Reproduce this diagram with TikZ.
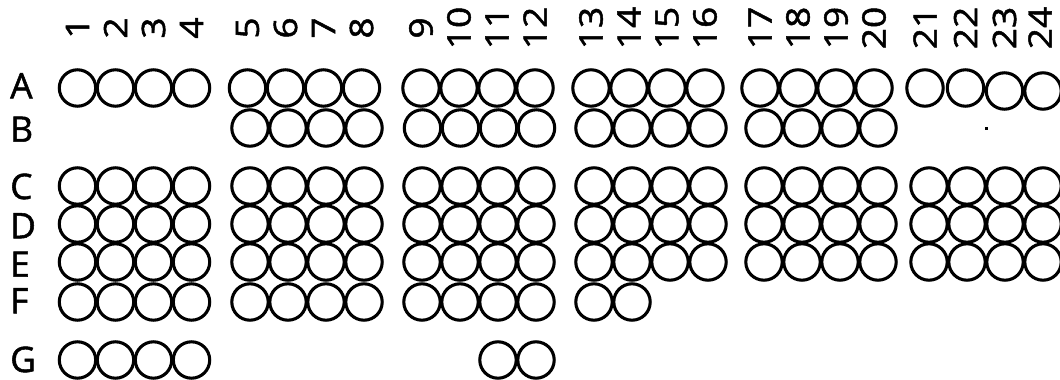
\documentclass[tikz,border=0pt]{standalone}
\usepackage{fontspec}
\setmainfont[FakeBold=1.5]{Open Sans}
\newfontfamily\numfont[FakeStretch=1.15, FakeBold=1.5]{Open Sans}
\tikzset{
  cell/.style={draw=black, line width=2.2pt},
  rowlbl/.style={anchor=base west, inner sep=0pt, font=\fontsize{25pt}{25pt}\selectfont},
  collbl/.style={rotate=90, inner sep=0pt, font=\numfont\fontsize{23pt}{23pt}\selectfont}
}
\begin{document}
\begin{tikzpicture}[x=0.025cm, y=-0.025cm]
\useasboundingbox (0,0) rectangle (1060,380);
% row A and column numbers
\foreach \g/\gx in {0/77.5, 1/247.5, 2/421, 3/591, 4/760} {
  \foreach \k in {0,...,3} {
    \pgfmathtruncatemacro\c{4*\g+\k+1}
    \draw[cell] (\gx+38*\k,88) circle[radius=0.455cm];
    \node[collbl] (n\c) at (\gx+38*\k,28) {\c};
  }
}
\foreach \c/\cx/\cy/\lx in {21/925/88/925, 22/965.5/88/965.5, 23/1004.5/91/1004.5, 24/1043/91/1040} {
  \draw[cell] (\cx,\cy) circle[radius=0.455cm];
  \node[collbl] (n\c) at (\lx,28) {\c};
}
% row B
\foreach \gx in {250, 422.5, 594, 764}
  \foreach \k in {0,...,3}
    \draw[cell] (\gx+38*\k,128) circle[radius=0.455cm];
\fill (985,127.5) rectangle (988,130.5);
% rows C to E
\foreach \y in {186, 224, 262}
  \foreach \gx in {77.5, 250, 422, 594, 764, 929}
    \foreach \k in {0,...,3}
      \draw[cell] (\gx+38*\k,\y) circle[radius=0.455cm];
% row F
\foreach \gx in {77.5, 250, 422}
  \foreach \k in {0,...,3}
    \draw[cell] (\gx+38*\k,302) circle[radius=0.455cm];
\foreach \x in {594, 632}
  \draw[cell] (\x,302) circle[radius=0.455cm];
% row G
\foreach \x in {77.5, 115.5, 153.5, 191.5, 498, 536}
  \draw[cell] (\x,360) circle[radius=0.455cm];
% row letters
\foreach \r/\b in {A/98.3, B/141.7, C/199, D/238.3, E/276.7, F/313.3, G/372}
  \node[rowlbl] (row\r) at (10,\b) {\r};
\end{tikzpicture}
\end{document}
